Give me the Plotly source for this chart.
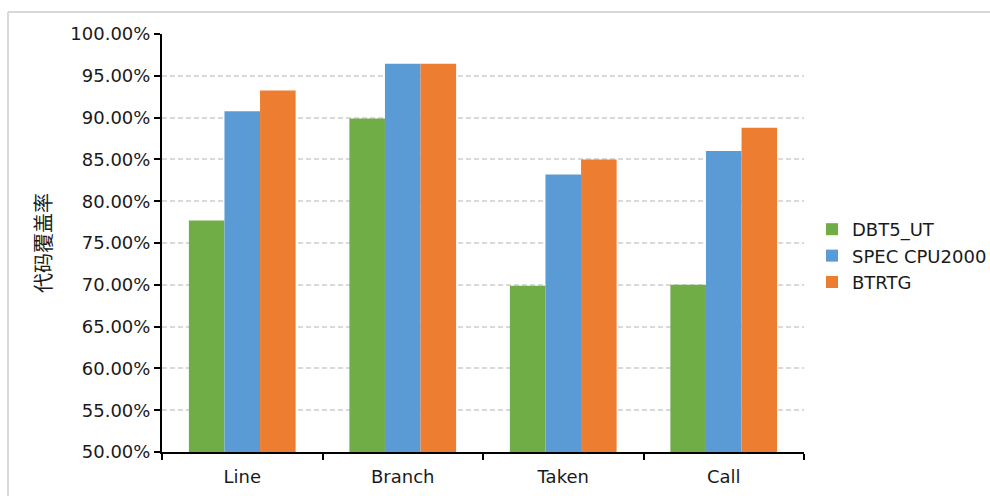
import plotly.graph_objects as go

# Coverage metrics per benchmark suite (percent)
categories = ["Line", "Branch", "Taken", "Call"]
dbt5_ut = [77.7, 89.9, 69.9, 70.0]
spec_cpu2000 = [90.75, 96.45, 83.2, 86.0]
btrtg = [93.25, 96.45, 85.0, 88.8]

series = [
    ("DBT5_UT", dbt5_ut, "#70AD47"),
    ("SPEC CPU2000", spec_cpu2000, "#5B9BD5"),
    ("BTRTG", btrtg, "#ED7D31"),
]

y_ticks = [50, 55, 60, 65, 70, 75, 80, 85, 90, 95, 100]

font_family = "DejaVu Sans, Noto Sans CJK SC, sans-serif"

# plot area geometry in pixels
W, H = 990, 496
L, R, T, B = 162, 186, 34, 44
PW, PH = W - L - R, H - T - B


def px_x(x):
    return (x - L) / PW


def px_y(y):
    return (H - B - y) / PH


fig = go.Figure()
for name, vals, color in series:
    fig.add_trace(go.Bar(
        x=categories,
        y=vals,
        name=name,
        marker=dict(color=color, line=dict(width=0)),
    ))

fig.update_layout(
    width=W,
    height=H,
    margin=dict(l=L, r=R, t=T, b=B, autoexpand=False),
    paper_bgcolor="white",
    plot_bgcolor="white",
    barmode="group",
    bargap=0.335,
    bargroupgap=0,
    font=dict(family=font_family, size=18, color="#1a1a1a"),
    showlegend=True,
    legend=dict(
        x=px_x(812), xanchor="left",
        y=px_y(256), yanchor="middle",
        font=dict(size=18, family=font_family),
        bgcolor="rgba(0,0,0,0)",
        itemwidth=30,
        tracegroupgap=0,
    ),
    shapes=[
        # outer frame (top and left edges)
        dict(type="line", xref="paper", yref="paper",
             x0=px_x(8), x1=px_x(995), y0=px_y(12), y1=px_y(12),
             line=dict(color="#d9d9d9", width=2)),
        dict(type="line", xref="paper", yref="paper",
             x0=px_x(8), x1=px_x(8), y0=px_y(12), y1=px_y(500),
             line=dict(color="#d9d9d9", width=2)),
    ],
)

fig.update_xaxes(
    type="category",
    showline=True, linecolor="black", linewidth=2,
    ticks="outside", tickson="boundaries", ticklen=6, tickwidth=2, tickcolor="black",
    showgrid=False,
    tickfont=dict(size=18),
    ticklabelstandoff=7,
)

fig.update_yaxes(
    range=[50, 100],
    tickvals=y_ticks,
    ticktext=[f"{v:.2f}%" for v in y_ticks],
    showline=True, linecolor="black", linewidth=2,
    ticks="outside", ticklen=6, tickwidth=2, tickcolor="black",
    showgrid=True, gridcolor="#d9d9d9", gridwidth=1.5, griddash="5px,3px",
    zeroline=False,
    tickfont=dict(size=18),
    title=dict(text="代码覆盖率", font=dict(size=20, family="Noto Sans CJK SC, sans-serif"), standoff=13),
)

fig.write_html("out.html")
